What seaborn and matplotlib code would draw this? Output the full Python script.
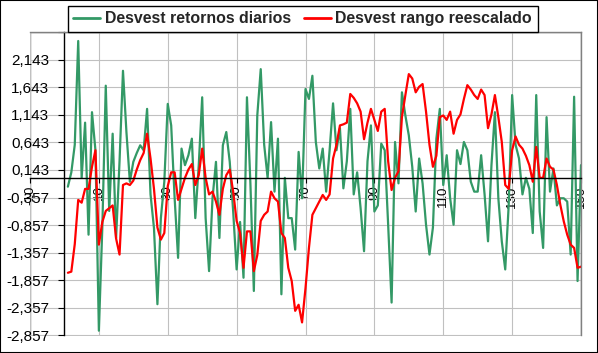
import numpy as np
import pandas as pd
import matplotlib
matplotlib.use("Agg")
import matplotlib.pyplot as plt
from matplotlib.patches import Rectangle
import seaborn as sns

# values (categories 1..150)
dias = list(range(1, 151))

desvest_retornos = [
    -0.16, 0.10, 0.60, 2.48, 0.00, 1.00, -1.03, 1.19, 0.50, -2.77,
    -0.90, 1.67, -0.60, 0.80, -1.09, 0.30, 1.94, 0.83, -0.07, 0.29,
    0.45, 0.59, 0.50, 1.25, -0.30, -0.91, -2.29, -0.73, -0.07, 1.34,
    0.95, -0.37, -1.45, 0.53, 0.23, 0.41, 0.71, -0.73, 0.23, 1.46,
    -0.73, -1.69, -0.37, 0.29, -1.09, 0.59, 0.83, 0.29, -0.61, -1.66,
    -0.80, -1.81, 1.46, -0.10, -2.05, 1.13, 1.97, 0.60, 0.00, 1.01,
    -0.25, 0.71, -2.11, 0.00, -0.73, -0.73, -1.30, 0.47, -0.37, 1.61,
    1.43, 1.85, 0.65, 0.17, 0.53, -0.25, 0.50, 1.35, 0.50, 0.90,
    -0.19, 0.30, 1.25, -0.30, 0.10, -0.55, -1.33, 0.30, 0.95, -0.61,
    -0.50, 0.62, 0.50, -0.85, -2.26, 0.65, -0.10, 1.55, 1.13, 0.77,
    0.20, -0.61, 0.35, -0.10, -0.85, -1.39, -0.90, 0.71, 1.25, -0.13,
    0.41, -0.37, -0.85, 0.50, 0.25, 0.65, 0.50, -0.07, -0.25, -0.25,
    0.41, -0.30, -1.15, 0.23, 1.19, -0.37, -1.15, -1.66, -0.50, 1.50,
    0.60, 0.35, -0.30, 0.00, -0.20, -1.00, 1.50, -0.61, -1.27, 1.10,
    -0.25, 0.17, -0.50, -0.37, -0.37, -0.43, -1.39, 1.47, -1.87, 0.23,
]

desvest_rango = [
    -1.72, -1.70, -1.20, -0.40, -0.45, -0.20, -0.20, 0.20, 0.50, -1.21,
    -0.80, -0.60, -0.55, -0.50, -1.10, -1.39, -0.13, -0.10, -0.13, -0.05,
    0.15, 0.32, 0.45, 0.80, 0.35, -0.20, -0.90, -1.12, -1.00, -0.15,
    0.10, 0.10, -0.40, -0.20, 0.00, 0.15, 0.25, -0.13, 0.05, 0.53,
    0.00, -0.30, -0.25, -0.43, -0.67, -0.20, 0.05, 0.15, -0.25, -0.78,
    -1.00, -1.63, -0.97, -0.97, -1.69, -1.40, -0.78, -0.67, -0.61, -0.25,
    -0.37, -0.43, -1.00, -1.09, -1.63, -1.87, -2.41, -2.30, -2.62, -2.00,
    -1.27, -0.67, -0.55, -0.43, -0.31, -0.40, -0.30, 0.35, 0.60, 0.95,
    0.97, 1.00, 1.52, 1.45, 1.35, 1.20, 0.70, 1.00, 1.25, 1.05,
    0.85, 1.20, 1.25, 0.30, -0.22, 0.00, 0.12, 1.10, 1.50, 1.88,
    1.80, 1.55, 1.65, 1.70, 1.20, 0.60, 0.20, 0.40, 1.10, 1.13,
    1.05, 1.20, 0.80, 1.05, 1.15, 1.43, 1.68, 1.60, 1.50, 1.43,
    1.60, 1.50, 0.90, 1.15, 1.50, 1.10, 0.65, -0.13, -0.20, 0.50,
    0.75, 0.60, 0.53, 0.40, 0.23, -0.07, 0.56, 0.00, 0.00, 0.35,
    0.20, 0.15, -0.13, -0.49, -0.79, -1.03, -1.21, -1.27, -1.63, -1.61,
]

y_ticks = [-2.857, -2.357, -1.857, -1.357, -0.857, -0.357, 0.143, 0.643,
           1.143, 1.643, 2.143, 2.643]
x_ticks = [-10, 10, 30, 50, 70, 90, 110, 130, 150]

sns.set_style("white")
plt.rcParams['font.family'] = ['Liberation Sans', 'DejaVu Sans']

df = pd.DataFrame({'dia': dias,
                   'retornos': desvest_retornos,
                   'rango': desvest_rango})

fig = plt.figure(figsize=(5.98, 3.53), dpi=100)
ax = fig.add_axes([30 / 598, 1 - 335.5 / 353, 551 / 598, 303.5 / 353])

sns.lineplot(data=df, x='dia', y='retornos', ax=ax, color='#339966',
             linewidth=1.6, label='Desvest retornos diarios', legend=False)
sns.lineplot(data=df, x='dia', y='rango', ax=ax, color='#ff0000',
             linewidth=1.6, label='Desvest rango reescalado', legend=False)

ax.set_xlim(-10, 150)
ax.set_ylim(-2.857, 2.643)
ax.set_xlabel('')
ax.set_ylabel('')

ax.set_yticks(y_ticks)
ax.set_yticklabels([('%.3f' % v).replace('.', ',') if v < 2.5 else ''
                    for v in y_ticks])
ax.set_xticks(x_ticks)
ax.set_xticklabels([str(v) for v in x_ticks])

ax.grid(True, color='#c0c0c0', linewidth=0.8)
ax.set_axisbelow(True)

# axes cross at zero, like the original spreadsheet chart
ax.spines['left'].set_position(('data', 0))
ax.spines['bottom'].set_position(('data', 0))
for s in ['left', 'bottom']:
    ax.spines[s].set_color('black')
    ax.spines[s].set_linewidth(1.0)
for s in ['top', 'right']:
    ax.spines[s].set_color('#808080')
    ax.spines[s].set_linewidth(1.0)
ax.add_patch(Rectangle((0, 0), 1, 1, transform=ax.transAxes, fill=False,
                       edgecolor='#808080', linewidth=1.0, zorder=0.5))

ax.tick_params(axis='y', direction='out', length=4, width=0.8, pad=7,
               labelsize=11, colors='black', left=True)
ax.tick_params(axis='x', direction='out', length=3.5, width=0.8, pad=2,
               labelsize=9.5, colors='black', bottom=True, labelrotation=90)

leg = fig.legend(loc='center', bbox_to_anchor=(0.506, 0.947), ncol=2,
                 frameon=True, fancybox=False, edgecolor='black',
                 framealpha=1, borderaxespad=0, handlelength=1.7,
                 handletextpad=0.3, columnspacing=0.8, borderpad=0.35,
                 prop={'weight': 'bold', 'size': 11.4})
leg.get_frame().set_linewidth(1.0)
for line in leg.get_lines():
    line.set_linewidth(2.0)

fig.patches.append(Rectangle((0, 0), 1, 1, transform=fig.transFigure,
                             fill=False, edgecolor='black', linewidth=1.5))

fig.savefig('out.png', dpi=100)
